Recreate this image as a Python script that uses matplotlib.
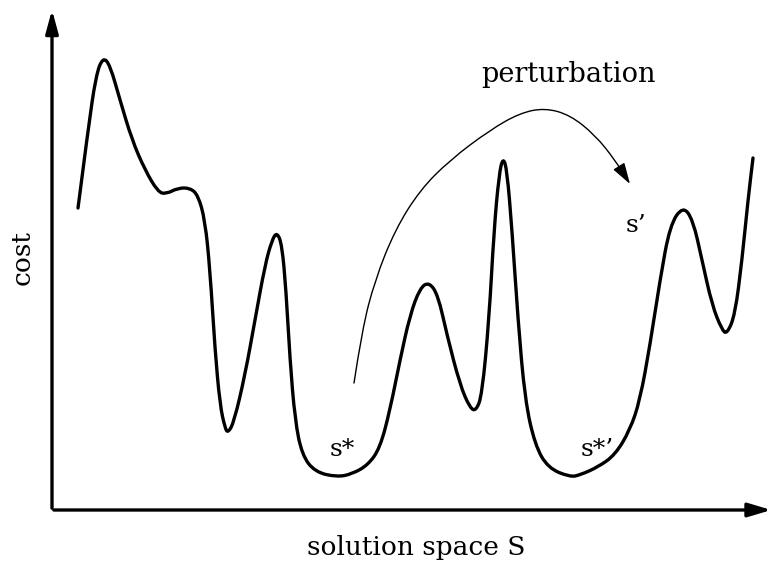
import matplotlib.pyplot as plt
from matplotlib.path import Path
from matplotlib.patches import PathPatch, FancyArrowPatch

# cost landscape (x = solution, y = cost)
land_x = [26, 36, 44, 51, 58, 68, 80, 93, 106, 114, 126, 138, 146, 153, 158, 163, 168, 173, 176,
          182, 193, 203, 213, 220, 225, 230, 234, 238, 243, 250, 263, 285, 300, 316, 328, 338, 348,
          358, 368, 377, 386, 395, 408, 418, 424, 430, 437, 442, 447, 451, 455, 460, 466, 473, 483,
          496, 518, 528, 546, 563, 578, 588, 598, 608, 618, 631, 641, 650, 660, 670, 675, 683, 690,
          696, 701]
land_y = [302, 380, 435, 453, 445, 410, 370, 340, 318, 316, 322, 322, 315, 290, 240, 160, 105, 82, 77,
          88, 135, 190, 245, 270, 278, 265, 220, 150, 90, 55, 38, 33, 36, 45, 62, 100, 150,
          195, 222, 228, 215, 175, 125, 102, 99, 115, 190, 280, 335, 353, 340, 280, 190, 110, 65,
          42, 33, 35, 43, 55, 80, 110, 165, 230, 285, 304, 290, 250, 205, 180, 176, 195, 250,
          310, 352]

# perturbation jump
pert_x = [302, 310, 323, 343, 368, 398, 438, 468, 493, 518, 543, 563, 578]
pert_y = [127, 180, 230, 280, 320, 350, 380, 397, 402, 395, 375, 350, 326]

labels = {"s*": (290, 61), "s*\u2019": (545, 61), "s\u2019": (584, 285)}


def smooth_path(xs, ys):
    pts = list(zip(xs, ys))
    verts = [pts[0]]
    codes = [Path.MOVETO]
    for i in range(1, len(pts) - 1):
        mid = ((pts[i][0] + pts[i + 1][0]) / 2, (pts[i][1] + pts[i + 1][1]) / 2)
        verts += [pts[i], mid]
        codes += [Path.CURVE3, Path.CURVE3]
    verts.append(pts[-1])
    codes.append(Path.LINETO)
    return Path(verts, codes)


plt.rcParams['font.family'] = ['DejaVu Serif']
fig = plt.figure(figsize=(7.67, 5.64), dpi=100)
ax = fig.add_axes([0, 0, 1, 1])
ax.set_xlim(-52, 715)
ax.set_ylim(-54, 510)
ax.axis('off')

# axes with arrow heads
ax.annotate('', xy=(0, 503), xytext=(0, -1),
            arrowprops=dict(arrowstyle='-|>,head_length=1.4,head_width=0.38', lw=2.4, color='black'))
ax.annotate('', xy=(722, 0), xytext=(-1, 0), annotation_clip=False,
            arrowprops=dict(arrowstyle='-|>,head_length=1.4,head_width=0.42', lw=2.4, color='black'))

ax.add_patch(PathPatch(smooth_path(land_x, land_y), fill=False, lw=2.4, color='black',
                       capstyle='round', joinstyle='round'))

ax.add_patch(FancyArrowPatch(path=smooth_path(pert_x, pert_y),
                             arrowstyle='-|>,head_length=13,head_width=4',
                             lw=1.0, color='black'))

ax.text(516, 436, 'perturbation', fontsize=19.5, ha='center', va='center')
ax.text(364, -37, 'solution space S', fontsize=19, ha='center', va='center')
ax.text(-30, 252, 'cost', fontsize=19, ha='center', va='center', rotation=90)
for t, (x, y) in labels.items():
    ax.text(x, y, t, fontsize=18, ha='center', va='center')

fig.savefig('out.png', dpi=100)
